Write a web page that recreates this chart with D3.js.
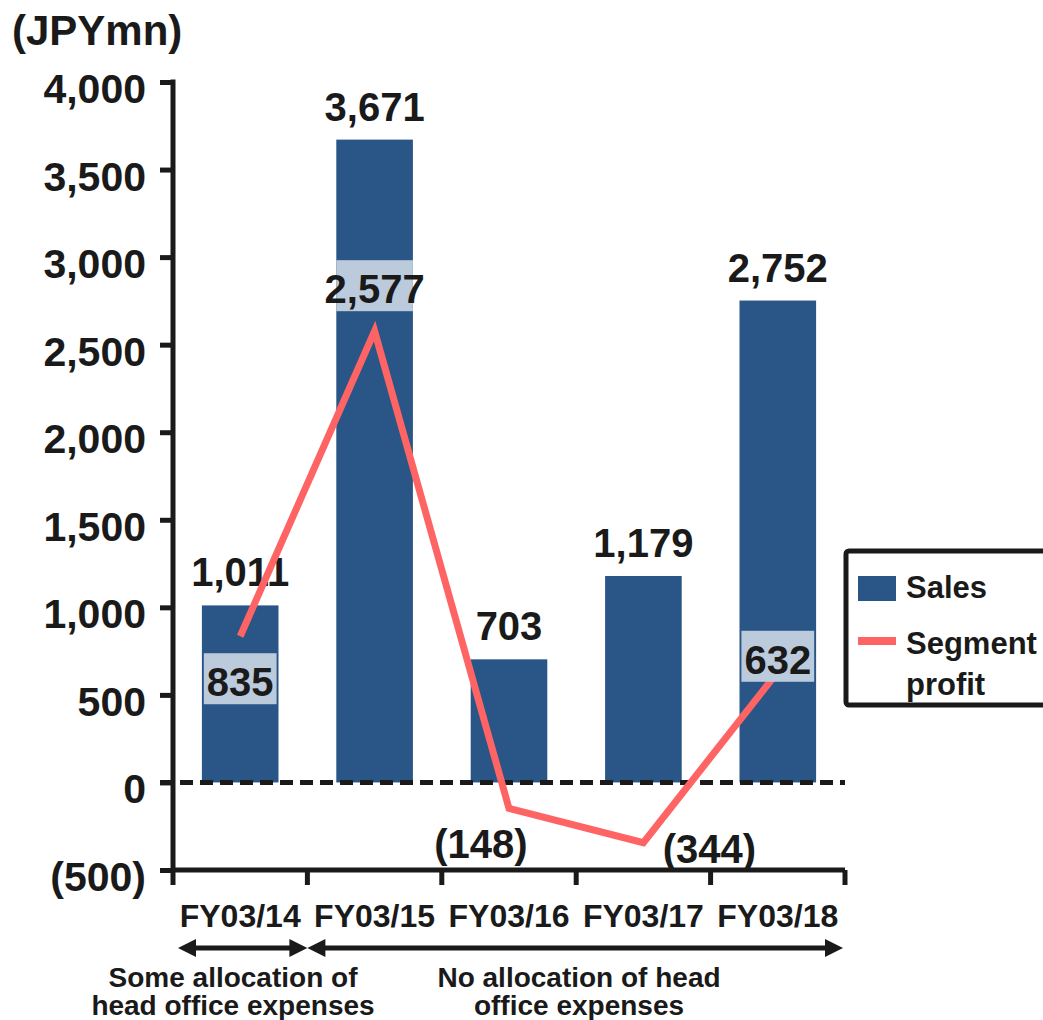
<!DOCTYPE html>
<html>
<head>
<meta charset="utf-8">
<script src="https://cdn.jsdelivr.net/npm/d3@7/dist/d3.min.js"></script>
<style>
  html, body { margin: 0; padding: 0; background: #ffffff; }
  svg { display: block; }
  text { font-family: "Liberation Sans", Arial, Helvetica, sans-serif; font-weight: bold; fill: #1a1a1a; }
</style>
</head>
<body>
<script>
// Segment results by fiscal year (JPY millions)
const categories = ["FY03/14", "FY03/15", "FY03/16", "FY03/17", "FY03/18"];
const sales = [1011, 3671, 703, 1179, 2752];
const segmentProfit = [835, 2577, -148, -344, 632];
const yTicks = [-500, 0, 500, 1000, 1500, 2000, 2500, 3000, 3500, 4000];
const periodNotes = [
  { from: 0, to: 1, lines: ["Some allocation of", "head office expenses"] },
  { from: 1, to: 5, lines: ["No allocation of head", "office expenses"] }
];

const W = 1043, H = 1020;
const BAR = "#2a5587", LINE = "#ff6464", LABEL_BG = "#bccbdc", INK = "#1a1a1a";

const svg = d3.select("body").append("svg").attr("width", W).attr("height", H);

const x = d3.scaleBand().domain(categories).range([173, 845]).paddingInner(0.43).paddingOuter(0.215);
const y = d3.scaleLinear().domain([-500, 4000]).range([870, 82]);

const fmt = v => v < 0 ? "(" + d3.format(",")(-v) + ")" : d3.format(",")(v);
const cx = c => x(c) + x.bandwidth() / 2;

// unit label
svg.append("text").attr("x", 12).attr("y", 45).attr("font-size", 42).text("(JPYmn)");

// bars
svg.append("g").selectAll("rect").data(categories).join("rect")
  .attr("x", d => x(d)).attr("width", x.bandwidth())
  .attr("y", (d, i) => y(sales[i])).attr("height", (d, i) => y(0) - y(sales[i]))
  .attr("fill", BAR);

// sales value labels
svg.append("g").selectAll("text").data(categories).join("text")
  .attr("x", d => cx(d)).attr("y", (d, i) => y(sales[i]) - 19)
  .attr("text-anchor", "middle").attr("font-size", 40)
  .text((d, i) => fmt(sales[i]));

// zero line
svg.append("line").attr("x1", 160).attr("x2", 845).attr("y1", y(0)).attr("y2", y(0))
  .attr("stroke", INK).attr("stroke-width", 5).attr("stroke-dasharray", "13,7");

// y axis
const yAxis = d3.axisLeft(y).tickValues(yTicks).tickFormat(fmt).tickSize(13).tickSizeOuter(0).tickPadding(14);
const gy = svg.append("g").attr("transform", "translate(173,0)").call(yAxis);
gy.select(".domain").remove();
gy.selectAll(".tick line").attr("stroke", INK).attr("stroke-width", 5);
gy.selectAll(".tick text").attr("font-size", 41).attr("fill", INK).attr("dy", "0.5em")
  .attr("font-family", "Liberation Sans, Arial, sans-serif").attr("font-weight", "bold");
svg.append("line").attr("x1", 173).attr("x2", 173).attr("y1", y(4000) - 2.5).attr("y2", 885)
  .attr("stroke", INK).attr("stroke-width", 5);

// x axis with ticks at category boundaries
const edges = [x.range()[0]].concat(categories.map(c => x(c) + x.bandwidth() + x.step() * x.paddingInner() / 2));
svg.append("line").attr("x1", 173).attr("x2", 845).attr("y1", 870).attr("y2", 870)
  .attr("stroke", INK).attr("stroke-width", 5);
svg.append("g").selectAll("line").data(edges.slice(1)).join("line")
  .attr("x1", d => d).attr("x2", d => d).attr("y1", 870).attr("y2", 885)
  .attr("stroke", INK).attr("stroke-width", 5);
svg.append("g").selectAll("text").data(categories).join("text")
  .attr("x", d => cx(d)).attr("y", 927).attr("text-anchor", "middle").attr("font-size", 32)
  .text(d => d);

// segment profit line
const line = d3.line().x((d, i) => cx(categories[i])).y(d => y(d));
svg.append("path").datum(segmentProfit).attr("d", line)
  .attr("fill", "none").attr("stroke", LINE).attr("stroke-width", 7)
  .attr("stroke-linejoin", "miter").attr("stroke-linecap", "butt");

// profit labels, placed clear of the line
const placeDx = [0, 0, -28, 66, 0];
const placeDy = [60, -28, 50, 20, 2];
const pl = svg.append("g");
segmentProfit.forEach((v, i) => {
  const px = cx(categories[i]) + placeDx[i];
  const py = y(v) + placeDy[i];
  const t = pl.append("text").attr("x", px).attr("y", py).attr("text-anchor", "middle")
    .attr("font-size", 40).text(fmt(v));
  if (v >= 0) {
    const tw = t.node().getComputedTextLength();
    const bw = Math.min(tw + 6, x.bandwidth());
    pl.insert("rect", "text").attr("x", px - bw / 2).attr("y", py - 43).attr("width", bw).attr("height", 51)
      .attr("fill", LABEL_BG);
  }
});
// keep text above its background
pl.selectAll("text").raise();

// legend
const lg = svg.append("g");
lg.append("rect").attr("x", 846).attr("y", 551).attr("width", 260).attr("height", 154).attr("rx", 3)
  .attr("fill", "#ffffff").attr("stroke", INK).attr("stroke-width", 5);
lg.append("rect").attr("x", 858).attr("y", 576).attr("width", 38).attr("height", 25).attr("fill", BAR);
lg.append("line").attr("x1", 858).attr("x2", 896).attr("y1", 641).attr("y2", 641)
  .attr("stroke", LINE).attr("stroke-width", 8);
lg.append("text").attr("x", 906).attr("y", 598).attr("font-size", 31).text("Sales");
lg.append("text").attr("x", 906).attr("y", 654).attr("font-size", 31).text("Segment");
lg.append("text").attr("x", 906).attr("y", 695).attr("font-size", 31).text("profit");

// period arrows and notes
const ag = svg.append("g");
const ay = 948, head = 18, half = 9;
const arrowStart = [178, edges[1]];
const arrowEnd = [edges[1], 843];
periodNotes.forEach((p, k) => {
  const x1 = arrowStart[k], x2 = arrowEnd[k];
  ag.append("line").attr("x1", x1 + head - 2).attr("x2", x2 - head + 2).attr("y1", ay).attr("y2", ay)
    .attr("stroke", INK).attr("stroke-width", 5);
  ag.append("path").attr("d", `M${x1},${ay}L${x1 + head},${ay - half}L${x1 + head},${ay + half}Z`).attr("fill", INK);
  const mid = k === 0 ? 233 : 579;
  ag.append("path").attr("d", `M${x2},${ay}L${x2 - head},${ay - half}L${x2 - head},${ay + half}Z`).attr("fill", INK);
  p.lines.forEach((s, j) => {
    ag.append("text").attr("x", mid).attr("y", 987 + j * 28).attr("text-anchor", "middle")
      .attr("font-size", 28).text(s);
  });
});
</script>
</body>
</html>
